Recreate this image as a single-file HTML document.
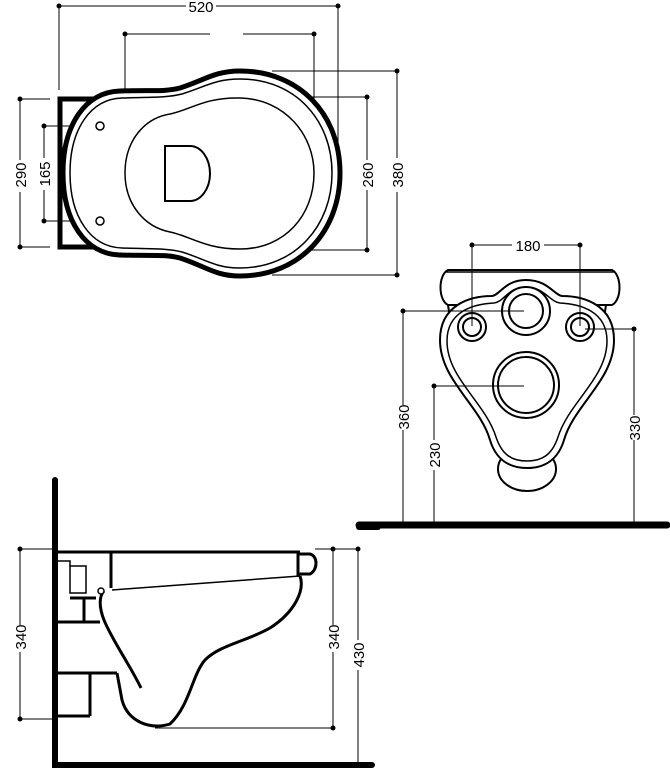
<!DOCTYPE html>
<html><head><meta charset="utf-8"><style>
html,body{margin:0;padding:0;background:#fff;}
svg{display:block;}
text{font-family:"Liberation Sans",sans-serif;font-size:15px;fill:#000;}
</style></head><body>
<svg width="670" height="781" viewBox="0 0 670 781" xmlns="http://www.w3.org/2000/svg">
<g stroke="#000" fill="none" stroke-width="1">
<!-- TOP VIEW dims -->
<path d="M59 6H186 M216 6H338 M59 6V90 M338 6V142"/>
<path d="M125 34H210 M243 34H314 M125 34V152 M314 34V152"/>
<path d="M272 71H397 M272 275H397 M397 71V158 M397 192V275"/>
<path d="M263 97H367 M263 250H367 M367 97V160 M367 190V250"/>
<path d="M20 99H50 M20 247H50 M20 99V160 M20 192V247"/>
<path d="M44 126H95 M44 221H95 M44 126V158 M44 190V221"/>
</g>
<g fill="#000">
<circle cx="59" cy="6" r="2.5"/><circle cx="338" cy="6" r="2.5"/>
<circle cx="125" cy="34" r="2.5"/><circle cx="314" cy="34" r="2.5"/>
<circle cx="397" cy="71" r="2.5"/><circle cx="397" cy="275" r="2.5"/>
<circle cx="367" cy="97" r="2.5"/><circle cx="367" cy="250" r="2.5"/>
<circle cx="20" cy="99" r="2.5"/><circle cx="20" cy="247" r="2.5"/>
<circle cx="44" cy="126" r="2.5"/><circle cx="44" cy="221" r="2.5"/>
</g>
<text x="201" y="12" text-anchor="middle">520</text>
<text transform="translate(403,175) rotate(-90)" text-anchor="middle">380</text>
<text transform="translate(373,175) rotate(-90)" text-anchor="middle">260</text>
<text transform="translate(26,175) rotate(-90)" text-anchor="middle">290</text>
<text transform="translate(50,174) rotate(-90)" text-anchor="middle">165</text>
<!-- bracket -->
<path d="M95 99H60V247H95" stroke="#000" stroke-width="5" fill="none"/>
<!-- outer bowl -->
<path d="M63 173 C63 125 85 92 120 91 C150 90 165 92 180 88 C205 80 215 71 240 71 C300 71 340 115 340 173 C340 231 300 276 240 276 C215 276 205 266 180 258 C165 254 150 256 120 255 C85 254 63 221 63 173Z" stroke="#000" stroke-width="5" fill="#fff"/>
<path d="M70 173 C70 130 90 99 122 98 C150 97 166 98 182 94 C205 87 215 79 240 79 C295 79 332 120 332 173 C332 226 295 268 240 268 C215 268 205 259 182 252 C166 248 150 249 122 248 C90 247 70 216 70 173Z" stroke="#000" stroke-width="1.5" fill="none"/>
<!-- inner bowl -->
<path d="M125 173 C125 140 145 118 170 114 C190 110 205 97 240 98 C285 99 314 135 314 173 C314 215 285 249 240 249 C205 249 190 236 170 232 C145 227 125 205 125 173Z" stroke="#000" stroke-width="1.5" fill="none"/>
<path d="M172 146 H165 V201 H172 M168 146 H190 A20 27.5 0 0 1 190 201 H168" stroke="#000" stroke-width="2" fill="none"/>
<circle cx="100" cy="126" r="4" stroke="#000" stroke-width="1.5" fill="#fff"/>
<circle cx="100" cy="221" r="4" stroke="#000" stroke-width="1.5" fill="#fff"/>

<!-- FRONT VIEW -->
<g stroke="#000" stroke-width="2" fill="#fff">
<path d="M448 270 H612 C622 275 622 300 612 305 H448 C438 300 438 275 448 270Z"/>
<path d="M446 272 H614" stroke-width="1.5"/>
<path d="M448 305 L450 318 M606 305 L604 318"/>
<ellipse cx="527" cy="469" rx="29" ry="22"/>
<path d="M526 280 C505 280 500 295 492 296 C470 296 440 305 440 340 C440 380 480 405 490 440 C496 460 510 468 527 468 C544 468 558 460 564 440 C574 405 614 380 614 340 C614 305 584 296 562 296 C554 295 548 280 526 280Z"/>
<path d="M526 287 C508 287 504 302 494 303 C474 304 447 311 447 341 C447 378 485 402 496 437 C502 455 512 461 527 461 C542 461 552 455 558 437 C569 402 607 378 607 341 C607 311 580 304 560 303 C550 302 544 287 526 287Z" stroke-width="1.5"/>
<circle cx="526" cy="311" r="24"/><circle cx="526" cy="311" r="17"/>
<circle cx="472" cy="327" r="14"/><circle cx="472" cy="327" r="9"/>
<circle cx="580" cy="327" r="14"/><circle cx="580" cy="327" r="9"/>
<circle cx="526" cy="385" r="33"/><circle cx="526" cy="385" r="28"/>
</g>
<g stroke="#000" fill="none" stroke-width="1">
<path d="M472 245H512 M544 245H580 M472 245V326 M580 245V326"/>
<path d="M403 311H524 M403 311V405 M403 430V525"/>
<path d="M434 386H524 M434 386V440 M434 470V525"/>
<path d="M585 329H634 M634 329V415 M634 440V525"/>
</g>
<g fill="#000">
<circle cx="472" cy="245" r="2.5"/><circle cx="580" cy="245" r="2.5"/>
<circle cx="403" cy="311" r="2.5"/><circle cx="434" cy="386" r="2.5"/><circle cx="634" cy="329" r="2.5"/>
</g>
<rect x="512" y="237" width="32" height="16" fill="#fff"/>
<text x="528" y="251" text-anchor="middle">180</text>
<text transform="translate(409,417) rotate(-90)" text-anchor="middle">360</text>
<text transform="translate(440,455) rotate(-90)" text-anchor="middle">230</text>
<text transform="translate(640,428) rotate(-90)" text-anchor="middle">330</text>
<path d="M359 525H667" stroke="#000" stroke-width="7" stroke-linecap="round"/>

<!-- SIDE VIEW -->
<g stroke="#000" fill="none" stroke-width="1">
<path d="M20 549H55 M20 719H55 M20 549V625 M20 652V719"/>
<path d="M315 549H358 M333 549V625 M333 652V728 M358 549V640 M358 670V765 M155 728H333"/>
</g>
<g fill="#000">
<circle cx="20" cy="549" r="2.5"/><circle cx="20" cy="719" r="2.5"/>
<circle cx="333" cy="549" r="2.5"/><circle cx="358" cy="549" r="2.5"/><circle cx="333" cy="728" r="2.5"/>
</g>
<text transform="translate(26,637) rotate(-90)" text-anchor="middle">340</text>
<text transform="translate(339,637) rotate(-90)" text-anchor="middle">340</text>
<text transform="translate(364,655) rotate(-90)" text-anchor="middle">430</text>
<path d="M55 480V765H372" stroke="#000" stroke-width="6" stroke-linecap="round" fill="none"/>
<path d="M359 527H378" stroke="#000" stroke-width="6" stroke-linecap="round"/>
<g stroke="#000" fill="none" stroke-width="3">
<path d="M57 552H300"/>
<path d="M111 552V588"/>
<path d="M57 622H100 M84 598V622 M70 598H96"/>
<path d="M57 673H117 M90 673V716 M57 716H90"/>
<path d="M300 576 C305 590 295 612 270 628 C245 642 220 645 205 660 C192 675 190 705 170 724 C150 730 128 722 122 700 L117 673"/>
<path d="M141 688 C130 665 112 640 104 620 C98 605 100 595 104 591"/>
<path d="M298 554 H310 C318 556 318 570 310 574 H298 Z" stroke-width="3"/>
</g>
<g stroke="#000" fill="none" stroke-width="1.5">
<path d="M112 590 L300 576"/>
<rect x="70" y="566" width="16" height="27"/>
<path d="M57 561H70V566"/>
</g>
<circle cx="101" cy="591" r="3" stroke="#000" stroke-width="1.5" fill="#fff"/>
</svg>
</body></html>
